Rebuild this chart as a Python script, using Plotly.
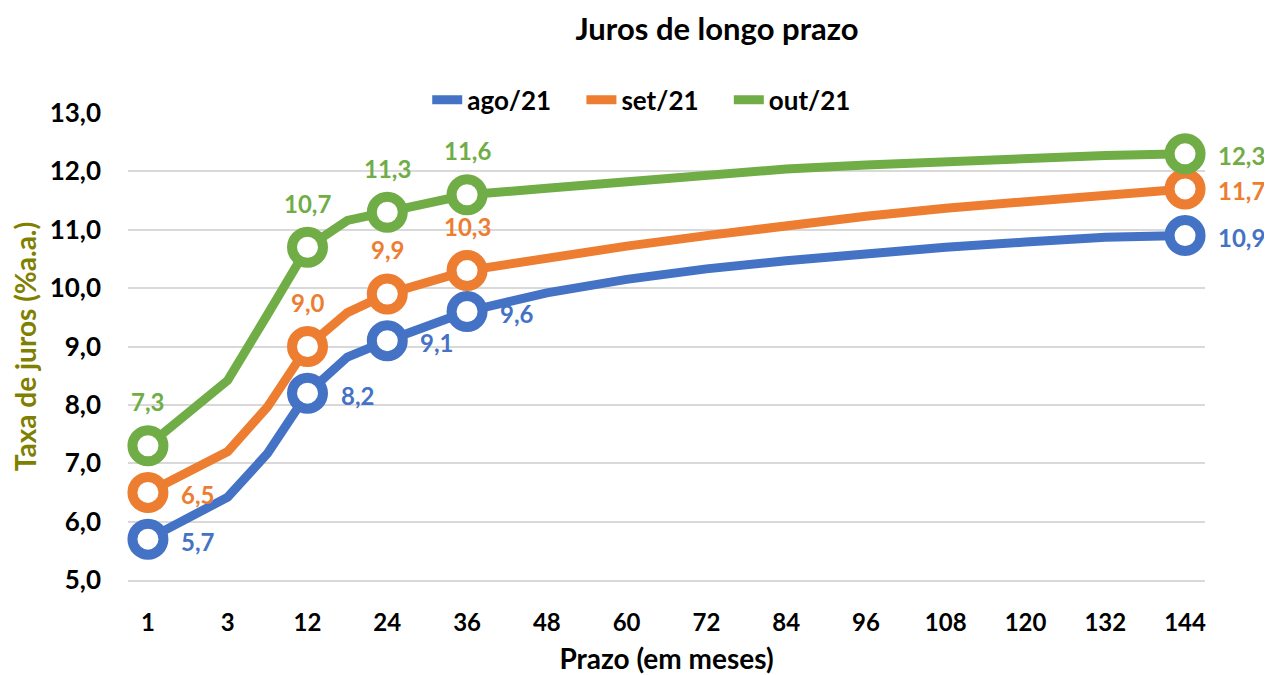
import plotly.graph_objects as go

# Prazo (months) categories; every other one is labelled on the axis
months = ["1", "2", "3", "6", "12", "18", "24", "30", "36", "42", "48", "54", "60",
          "66", "72", "78", "84", "90", "96", "102", "108", "114", "120", "126",
          "132", "138", "144"]
tick_months = ["1", "3", "12", "24", "36", "48", "60", "72", "84", "96", "108",
               "120", "132", "144"]
marked_months = ["1", "12", "24", "36", "144"]

N = None
ago21 = [5.7, N, 6.42, 7.17, 8.2, 8.82, 9.1, N, 9.6, N, 9.92, N, 10.15,
         N, 10.33, N, 10.47, N, 10.59, N, 10.70, N, 10.79, N, 10.87, N, 10.9]
set21 = [6.5, N, 7.2, 7.97, 9.0, 9.58, 9.9, N, 10.3, N, 10.52, N, 10.72,
         N, 10.90, N, 11.07, N, 11.23, N, 11.37, N, 11.49, N, 11.60, N, 11.7]
out21 = [7.3, N, 8.42, 9.55, 10.7, 11.16, 11.3, N, 11.6, N, 11.71, N, 11.83,
         N, 11.94, N, 12.04, N, 12.11, N, 12.17, N, 12.22, N, 12.27, N, 12.3]

series = [
    ("ago/21", ago21, "#4472C4", ["right", "right", "right", "right", "right"]),
    ("set/21", set21, "#ED7D31", ["right", "top", "top", "top", "right"]),
    ("out/21", out21, "#70AD47", ["top", "top", "top", "top", "right"]),
]

FONT = "Lato"
NB = "\u00a0"
fig = go.Figure()
for i, (name, vals, color, positions) in enumerate(series):
    fig.add_trace(go.Scatter(
        x=months, y=vals, mode="lines",
        name=name + (NB * 4 if i < len(series) - 1 else ""),
        connectgaps=True, line=dict(color=color, width=9), hoverinfo="skip"))

annotations = []
for name, vals, color, positions in series:
    mv = [vals[months.index(m)] for m in marked_months]
    fig.add_trace(go.Scatter(
        x=marked_months, y=mv, mode="markers", showlegend=False,
        marker=dict(symbol="circle", size=31, color="white",
                    line=dict(color=color, width=10)),
        cliponaxis=False, hoverinfo="skip"))
    for m, v, pos in zip(marked_months, mv, positions):
        a = dict(x=months.index(m), y=v, xref="x", yref="y", showarrow=False,
                 text=f"{v:.1f}".replace(".", ","),
                 font=dict(family=FONT, size=24, color=color, weight="bold"))
        if pos == "right":
            a.update(xanchor="left", yanchor="middle", xshift=31, yshift=-2)
        else:
            a.update(xanchor="center", yanchor="middle", yshift=44)
        annotations.append(a)

fig.update_layout(
    width=1264, height=667,
    margin=dict(l=120, r=67, t=105, b=95, autoexpand=False),
    paper_bgcolor="white", plot_bgcolor="white",
    separators=",.",
    font=dict(family=FONT, color="black"),
    title=dict(text="Juros de longo prazo", x=709 / 1264, xanchor="center",
               y=0.968, yanchor="middle",
               font=dict(family=FONT, size=31, color="black", weight="bold")),
    legend=dict(orientation="h", x=0.477, xanchor="center", y=1.028, yanchor="middle",
                font=dict(family=FONT, size=26, color="black", weight="bold"),
                bgcolor="rgba(0,0,0,0)"),
    showlegend=True,
    annotations=annotations,
)
fig.update_xaxes(
    type="category", categoryorder="array", categoryarray=months,
    tickmode="array", tickvals=tick_months, ticktext=tick_months,
    range=[-0.5, len(months) - 0.5], automargin=False,
    showgrid=False, showline=True, linecolor="#D9D9D9", linewidth=1.5,
    ticks="", ticklabelstandoff=20,
    tickfont=dict(family=FONT, size=24, color="black", weight="bold"),
    title=dict(text="Prazo (em meses)", standoff=16,
               font=dict(family=FONT, size=28, color="black", weight="bold")),
)
fig.update_yaxes(
    range=[5, 13], dtick=1, tickformat=".1f", automargin=False,
    showgrid=True, gridcolor="#D9D9D9", gridwidth=1.5, zeroline=False,
    ticks="", ticklabelstandoff=26,
    tickfont=dict(family=FONT, size=26, color="black", weight="bold"),
    title=dict(text="Taxa de juros (%a.a.)", standoff=6,
               font=dict(family=FONT, size=28, color="#7F8000", weight="bold")),
)

fig.write_html("out.html")
